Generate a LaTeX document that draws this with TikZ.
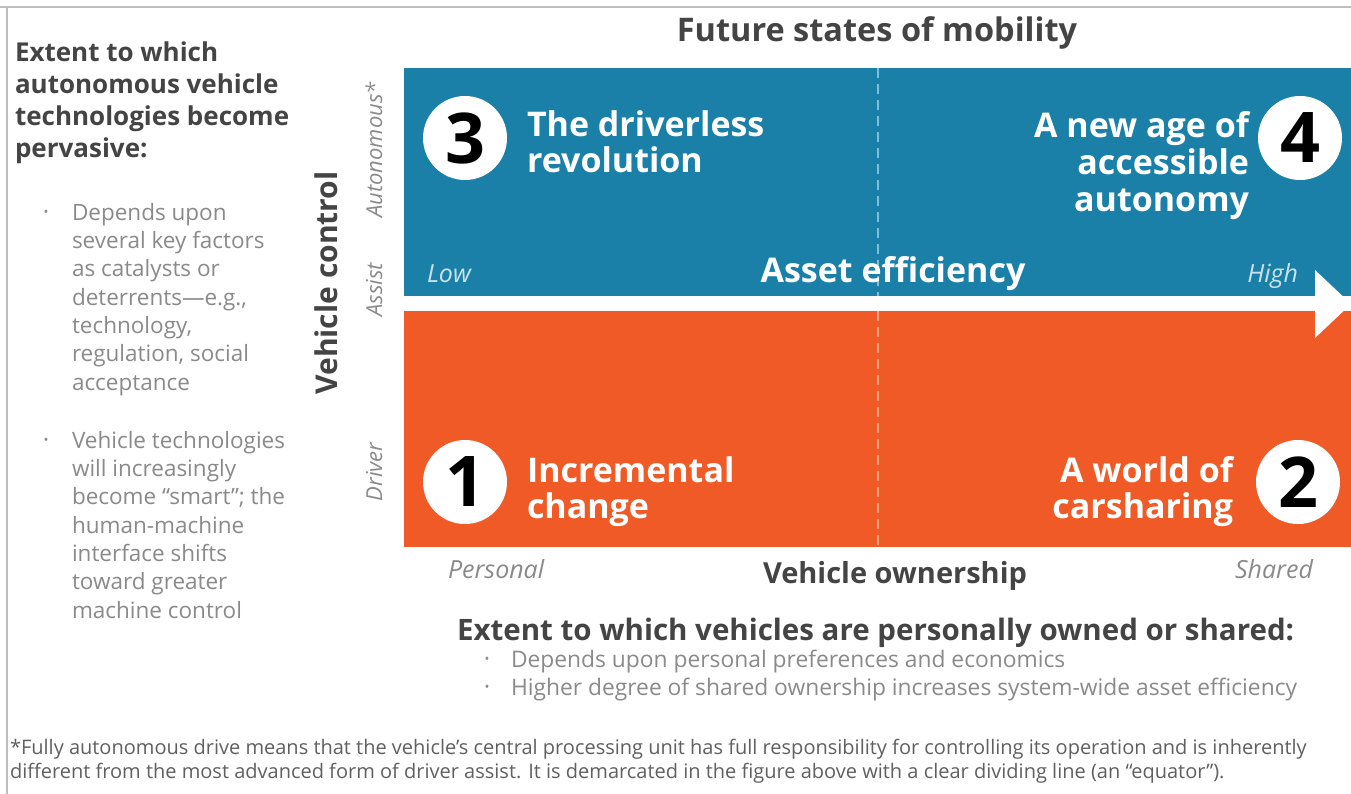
\documentclass[tikz,border=0pt]{standalone}
\usepackage{fontspec}
\setmainfont{Open Sans}
\definecolor{qblue}{HTML}{1A80A8}
\definecolor{qorange}{HTML}{EF5A27}
\definecolor{dgray}{HTML}{444444}
\definecolor{lgray}{HTML}{8A8A8A}
\definecolor{framec}{HTML}{BDBDBD}
\definecolor{dashb}{HTML}{7DC0DC}
\definecolor{dasho}{HTML}{F8A47E}
\tikzset{
  panel/.style={draw=none, anchor=north west},
  numc/.style={circle, fill=white, minimum size=84, font=\fontsize{70}{70}\selectfont\bfseries, text=black},
  qtitle/.style={font=\fontsize{34}{36}\selectfont\bfseries, text=white},
  axl/.style={font=\fontsize{25}{25}\selectfont\itshape, text=white!78!qblue},
  axlg/.style={font=\fontsize{25}{25}\selectfont\itshape, text=lgray},
  axlv/.style={font=\fontsize{22}{22}\selectfont\itshape, text=lgray},
  axt/.style={font=\fontsize{34}{34}\selectfont\bfseries, text=white},
  axtg/.style={font=\fontsize{29}{29}\selectfont\bfseries, text=dgray},
  ltxt/.style={align=left, font=\fontsize{22.5}{28.3}\selectfont, text=lgray},
  btxt/.style={align=left, font=\fontsize{22.8}{28}\selectfont, text=lgray},
  bul/.style={font=\fontsize{13}{13}\selectfont, text=lgray},
  eqline/.style={line width=2, dash pattern=on 10pt off 6pt}
}
\begin{document}
\begin{tikzpicture}[x=1pt,y=-1pt, every node/.style={inner sep=0pt, outer sep=0pt}]
\useasboundingbox (0,0) rectangle (1351,794);
\fill[white] (0,0) rectangle (1351,794);
\draw[framec, line width=1.5] (0,7) -- (1351,7) (7,7) -- (7,794);

% quadrants
\node[panel, fill=qblue, minimum width=947, minimum height=228] (top) at (404,68) {};
\node[panel, fill=qorange, minimum width=947, minimum height=236] (bot) at (404,311) {};

% equator arrow
\fill[white] (404,296) rectangle (1317,311);
\fill[white] (1315,270) -- (1351,304) -- (1315,338) -- cycle;

% dashed dividers
\coordinate (d1) at (878,68);
\coordinate (d2) at (878,296);
\coordinate (d3) at (878,311);
\coordinate (d4) at (878,547);
\draw[eqline, dashb] (d1) -- (d2);
\draw[eqline, dasho] (d3) -- (d4);

% numbers
\node[numc] (n3) at (465,138) {3};
\node[numc] (n4) at (1300,138) {4};
\node[numc] (n1) at (465,482) {1};
\node[numc] (n2) at (1298,482) {2};

% scenario titles (anchor = baseline of last line)
\node[qtitle, anchor=base west, align=left] (t3) at (527,173) {The driverless\\revolution};
\node[qtitle, anchor=base east, align=right, font=\fontsize{34}{37}\selectfont\bfseries] (t4) at (1249,212) {A new age of\\accessible\\autonomy};
\node[qtitle, anchor=base west, align=left] (t1) at (527,518) {Incremental\\change};
\node[qtitle, anchor=base east, align=right] (t2) at (1233,518) {A world of\\carsharing};

% axes labels
\node[axl, anchor=base west] (low) at (427,282) {Low};
\node[axt, anchor=base] (ae) at (893,282) {Asset efficiency};
\node[axl, anchor=base east] (high) at (1298,282) {High};
\node[axlg, anchor=base west] (pers) at (448,578) {Personal};
\node[axtg, anchor=base] (vo) at (895,583) {Vehicle ownership};
\node[axlg, anchor=base east] (shr) at (1313,578) {Shared};
\node[axtg, anchor=base, rotate=90, font=\fontsize{30}{30}\selectfont\bfseries] (vc) at (337,283) {Vehicle control};
\node[axlv, anchor=base, rotate=90] (aut) at (382,150) {Autonomous*};
\node[axlv, anchor=base, rotate=90] (asst) at (382,290) {Assist};
\node[axlv, anchor=base, rotate=90] (drv) at (382,472) {Driver};

% header
\node[font=\fontsize{32.5}{32.5}\selectfont\bfseries, text=dgray, anchor=base] (ft) at (877,42) {Future states of mobility};

% left text
\node[anchor=base west, align=left, font=\fontsize{26}{32}\selectfont\bfseries, text=dgray] (lt) at (15,158) {Extent to which\\autonomous vehicle\\technologies become\\pervasive:};
\node[bul] (b1) at (46,213) {\textbullet};
\node[ltxt, anchor=base west] (l1) at (72,390) {Depends upon\\several key factors\\as catalysts or\\deterrents—e.g.,\\technology,\\regulation, social\\acceptance};
\node[bul] (b2) at (46,441) {\textbullet};
\node[ltxt, anchor=base west] (l2) at (72,618) {Vehicle technologies\\will increasingly\\become “smart”; the\\human-machine\\interface shifts\\toward greater\\machine control};

% bottom text
\node[anchor=base west, font=\fontsize{29.5}{29.5}\selectfont\bfseries, text=dgray] (bt) at (457,640) {Extent to which vehicles are personally owned or shared:};
\node[bul] (b3) at (487,660) {\textbullet};
\node[btxt, anchor=base west] (bl1) at (511,667) {Depends upon personal preferences and economics};
\node[bul] (b4) at (487,688) {\textbullet};
\node[btxt, anchor=base west] (bl2) at (511,695) {Higher degree of shared ownership increases system-wide asset efficiency};

% footnote
\node[anchor=base west, align=left, font=\fontsize{20}{24}\selectfont, text=dgray!85] (fn) at (10,778) {*Fully autonomous drive means that the vehicle’s central processing unit has full responsibility for controlling its operation and is inherently\\different from the most advanced form of driver assist. It is demarcated in the figure above with a clear dividing line (an “equator”).};
\end{tikzpicture}
\end{document}
